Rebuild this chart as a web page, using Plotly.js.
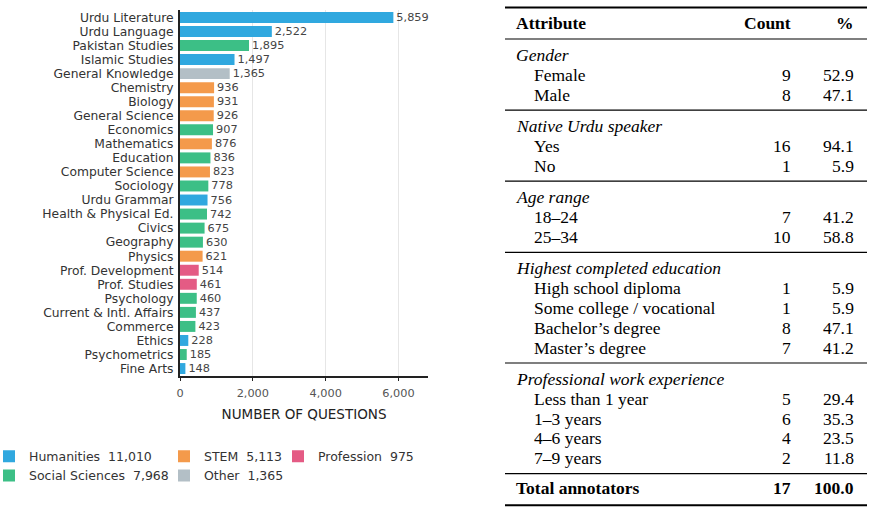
<!DOCTYPE html>
<html><head><meta charset="utf-8">
<script src="https://cdn.plot.ly/plotly-3.0.1.min.js"></script>
<style>html,body{margin:0;padding:0;background:#fff}#chart{width:874px;height:514px}</style>
</head><body><div id="chart"></div>
<script>
// ---- bar chart data ----
const subjects = ["Urdu Literature","Urdu Language","Pakistan Studies","Islamic Studies","General Knowledge","Chemistry","Biology","General Science","Economics","Mathematics","Education","Computer Science","Sociology","Urdu Grammar","Health & Physical Ed.","Civics","Geography","Physics","Prof. Development","Prof. Studies","Psychology","Current & Intl. Affairs","Commerce","Ethics","Psychometrics","Fine Arts"];
const questions = [5859,2522,1895,1497,1365,936,931,926,907,876,836,823,778,756,742,675,630,621,514,461,460,437,423,228,185,148];
const fields = ["Humanities","Humanities","Social Sciences","Humanities","Other","STEM","STEM","STEM","Social Sciences","STEM","Social Sciences","STEM","Social Sciences","Humanities","Social Sciences","Social Sciences","Social Sciences","STEM","Profession","Profession","Social Sciences","Social Sciences","Social Sciences","Humanities","Social Sciences","Humanities"];
const fieldNames = ["Humanities","STEM","Profession","Social Sciences","Other"];
const fieldColors = ["#30a8df","#f49a4b","#e45b84","#3cbf86","#b3bfc6"];
const legendSlot = {"Humanities":"legend","Social Sciences":"legend","STEM":"legend2","Other":"legend2","Profession":"legend3"};
const xTicks = [0, 2000, 4000, 6000];

// ---- table data ----
const tableHeader = ["Attribute","Count","%"];
const tableGroups = ["Gender","Native Urdu speaker","Age range","Highest completed education","Professional work experience"];
const tableRows = [["Female","Male"],["Yes","No"],["18–24","25–34"],["High school diploma","Some college / vocational","Bachelor’s degree","Master’s degree"],["Less than 1 year","1–3 years","4–6 years","7–9 years"]];
const tableCounts = [[9,8],[16,1],[7,10],[1,1,8,7],[5,6,4,2]];
const tablePct = [[52.9,47.1],[94.1,5.9],[41.2,58.8],[5.9,5.9,47.1,41.2],[29.4,35.3,23.5,11.8]];
const totalLabel = "Total annotators";
const totalCount = 17;
const totalPct = 100.0;

const W = 874, H = 514;
const px = x => x / W, py = y => 1 - y / H;
const fmt = v => v.toLocaleString('en-US');

const traces = fieldNames.map((f, k) => {
  const idx = subjects.map((s, i) => i).filter(i => fields[i] === f);
  const total = idx.reduce((a, i) => a + questions[i], 0);
  return {
    type: 'bar', orientation: 'h',
    y: idx.map(i => subjects[i]), x: idx.map(i => questions[i]),
    name: f + '\u00a0 ' + fmt(total),
    marker: {color: fieldColors[k], line: {width: 0}},
    width: 0.78,
    text: idx.map(i => fmt(questions[i])),
    textposition: 'outside', cliponaxis: false, constraintext: 'none',
    textfont: {family: 'DejaVu Sans', size: 11.3, color: '#444'},
    legend: legendSlot[f],
    hoverinfo: 'skip'
  };
});

// ---- table as annotations + rules ----
const serif = 'Liberation Serif';
const TF = 17.5;
const xLabel = 515, xIndent = 533, xCount = 791.5, xPct = 855, xRule0 = 505, xRule1 = 867;
const annotations = [];
const shapes = [];
function txt(text, x, y, anchor) {
  annotations.push({text: text, xref: 'paper', yref: 'paper', x: px(x), y: py(y), xanchor: anchor, yanchor: 'middle', showarrow: false, font: {family: serif, size: TF, color: '#000'}, borderpad: 0});
}
function rule(y, w) {
  shapes.push({type: 'line', xref: 'paper', yref: 'paper', x0: px(xRule0), x1: px(xRule1), y0: py(y), y1: py(y), line: {color: '#000', width: w}});
}
rule(7.5, 2);
txt('<b>' + tableHeader[0] + '</b>', xLabel, 23.5, 'left');
txt('<b>' + tableHeader[1] + '</b>', xCount, 23.5, 'right');
txt('<b>' + tableHeader[2] + '</b>', xPct, 23.5, 'right');
let ry = 39;
rule(ry, 1.2);
const lineH = 19.8;
tableGroups.forEach((g, gi) => {
  let y = ry + 16;
  txt('<i>' + g + '</i>', xLabel, y, 'left');
  tableRows[gi].forEach((r, ri) => {
    y += lineH;
    txt(r, xIndent, y, 'left');
    txt(String(tableCounts[gi][ri]), xCount, y, 'right');
    txt(tablePct[gi][ri].toFixed(1), xPct, y, 'right');
  });
  ry = y + 15.5;
  rule(ry, 1.2);
});
const ty = ry + 14.5;
txt('<b>' + totalLabel + '</b>', xLabel, ty, 'left');
txt('<b>' + totalCount + '</b>', xCount, ty, 'right');
txt('<b>' + totalPct.toFixed(1) + '</b>', xPct, ty, 'right');
rule(ty + 17, 2);

const legendBase = {orientation: 'v', xanchor: 'left', yanchor: 'top', y: py(441.5), bgcolor: 'rgba(0,0,0,0)', borderwidth: 0,
  font: {family: 'DejaVu Sans', size: 12.5, color: '#333'}, tracegroupgap: 0, traceorder: 'normal', indentation: -11};

const layout = {
  width: W, height: H,
  margin: {l: 0, r: 0, t: 0, b: 0},
  paper_bgcolor: '#fff', plot_bgcolor: '#fff',
  barmode: 'overlay',
  showlegend: true,
  font: {family: 'DejaVu Sans', color: '#333'},
  xaxis: {
    domain: [180 / W, 428 / W], range: [0, 6810],
    tickmode: 'array', tickvals: xTicks, ticktext: xTicks.map(fmt),
    showgrid: true, gridcolor: '#e6e6e6', gridwidth: 1,
    showline: true, linecolor: '#222', linewidth: 2,
    ticks: 'outside', ticklen: 3, tickcolor: '#222', tickwidth: 1,
    ticklabelstandoff: 2,
    tickfont: {family: 'DejaVu Sans', size: 11.3, color: '#555'},
    title: {text: 'NUMBER OF QUESTIONS', standoff: 11, font: {family: 'DejaVu Sans', size: 13.5, color: '#222'}},
    zeroline: false, fixedrange: true, automargin: false
  },
  yaxis: {
    domain: [1 - 376 / H, 1 - 10 / H], type: 'category',
    categoryorder: 'array', categoryarray: subjects,
    tickmode: 'array', tickvals: subjects, ticktext: subjects,
    range: [25.53, -0.53],
    showline: true, linecolor: '#222', linewidth: 2,
    ticks: '', showgrid: false, zeroline: false,
    ticklabelstandoff: 2,
    tickfont: {family: 'DejaVu Sans', size: 12.3, color: '#333'},
    fixedrange: true, automargin: false
  },
  legend: Object.assign({}, legendBase, {x: px(0)}),
  legend2: Object.assign({}, legendBase, {x: px(175)}),
  legend3: Object.assign({}, legendBase, {x: px(289)}),
  annotations: annotations,
  shapes: shapes
};

Plotly.newPlot('chart', traces, layout, {displayModeBar: false, staticPlot: true});
</script>
</body></html>
